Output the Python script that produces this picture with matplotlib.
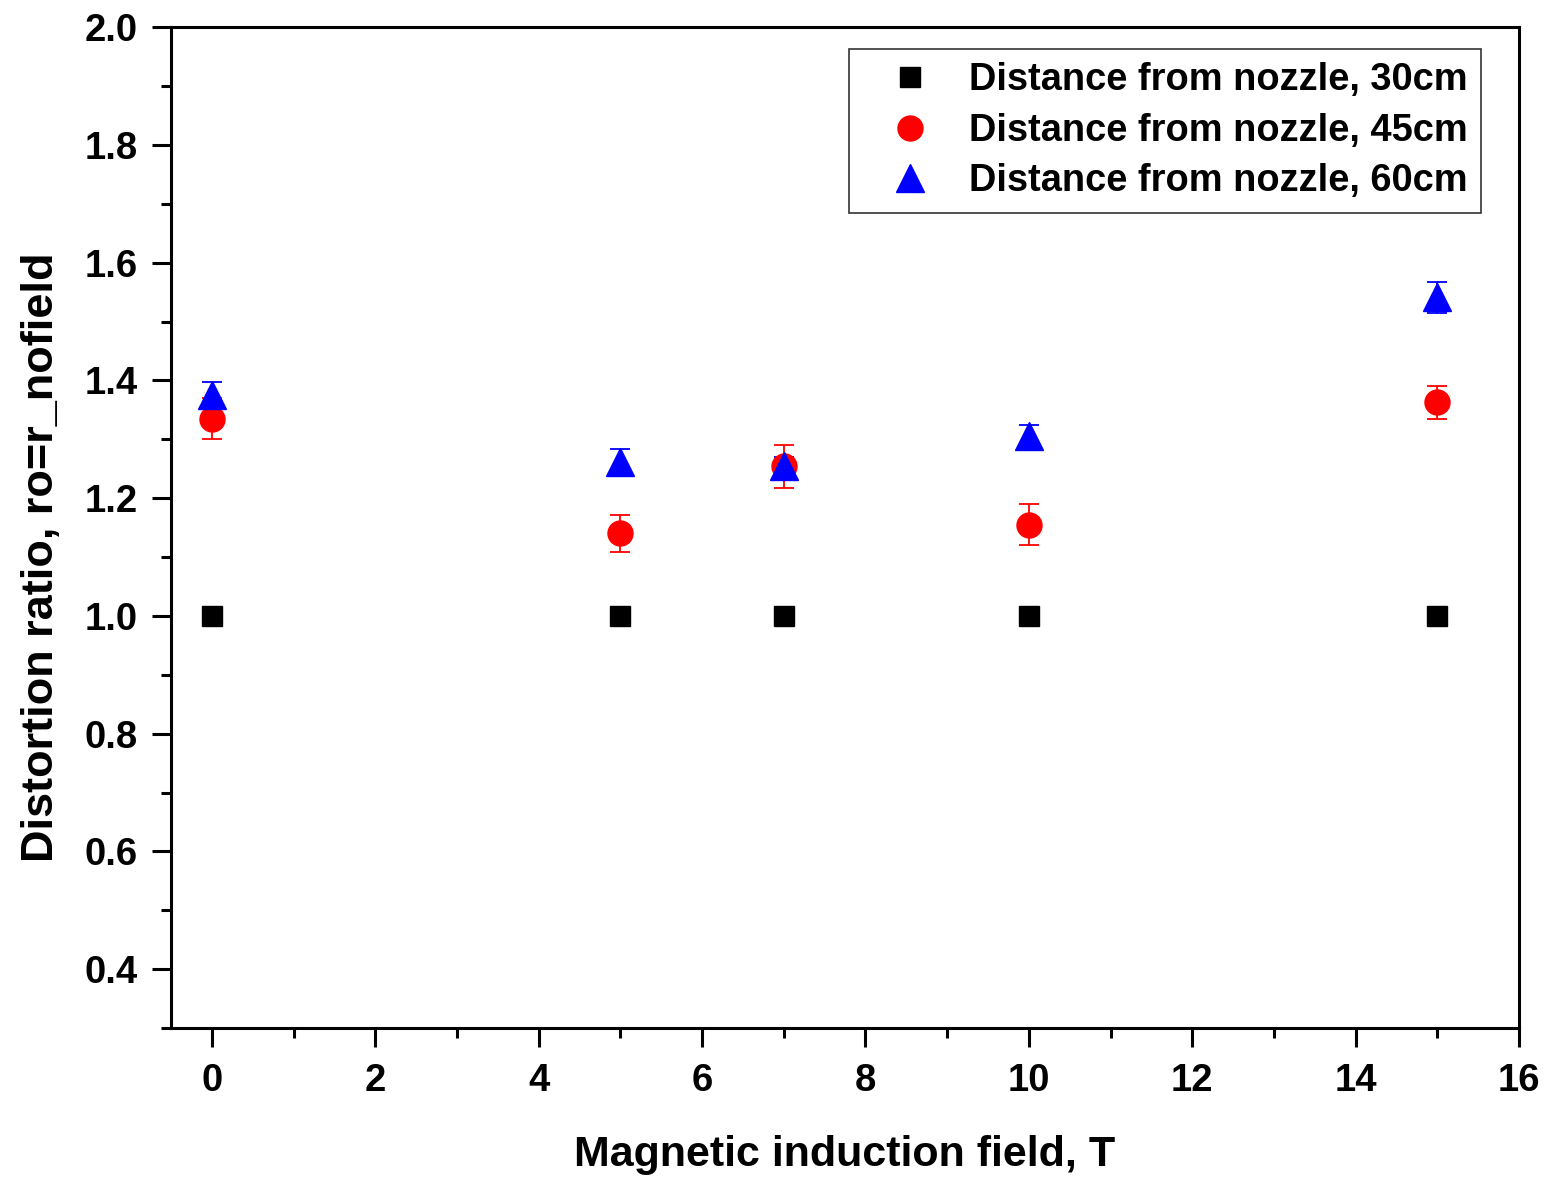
import matplotlib
matplotlib.use("Agg")
import matplotlib.pyplot as plt
from matplotlib.ticker import MultipleLocator

plt.rcParams['font.family'] = ['Liberation Sans', 'DejaVu Sans']
plt.rcParams['font.weight'] = 'bold'

field = [0, 5, 7, 10, 15]
ratio_30 = [1.0, 1.0, 1.0, 1.0, 1.0]
ratio_45 = [1.335, 1.140, 1.254, 1.155, 1.363]
err_45 = [0.035, 0.031, 0.037, 0.035, 0.028]
ratio_60 = [1.375, 1.262, 1.255, 1.305, 1.541]
err_60 = [0.023, 0.021, 0.015, 0.019, 0.026]
labels = ["Distance from nozzle, 30cm", "Distance from nozzle, 45cm", "Distance from nozzle, 60cm"]

fig = plt.figure(figsize=(15.47, 11.8), dpi=100)
ax = fig.add_axes([0.1105, 0.1288, 0.8715, 0.8482])

ax.errorbar(field, ratio_45, yerr=err_45, fmt='none', ecolor='red', elinewidth=1.3, capsize=7.5, capthick=1.3, zorder=2)
ax.errorbar(field, ratio_60, yerr=err_60, fmt='none', ecolor='blue', elinewidth=1.3, capsize=7.5, capthick=1.3, zorder=3)
ax.plot(field, ratio_30, 's', color='black', ms=14.5, linestyle='none', label=labels[0], zorder=4)
ax.plot(field, ratio_45, 'o', color='red', ms=18, linestyle='none', label=labels[1], zorder=4)
ax.plot(field, ratio_60, '^', color='blue', ms=20.5, linestyle='none', label=labels[2], zorder=5)

ax.set_xlim(-0.5, 16)
ax.set_ylim(0.3, 2.0)
ax.xaxis.set_major_locator(MultipleLocator(2))
ax.xaxis.set_minor_locator(MultipleLocator(1))
ax.set_yticks([0.3, 0.5, 0.7, 0.9, 1.1, 1.3, 1.5, 1.7, 1.9], minor=True)
ax.set_yticks([0.4, 0.6, 0.8, 1.0, 1.2, 1.4, 1.6, 1.8, 2.0])
ax.set_yticklabels(["0.4", "0.6", "0.8", "1.0", "1.2", "1.4", "1.6", "1.8", "2.0"])

ax.tick_params(which='major', direction='out', length=14, width=2.2, labelsize=27.5)
ax.tick_params(axis='x', which='major', pad=11)
ax.tick_params(axis='y', which='major', pad=10)
ax.tick_params(which='minor', direction='out', length=7.5, width=2.2)
for lab in ax.get_xticklabels() + ax.get_yticklabels():
    lab.set_fontweight('bold')
for sp in ax.spines.values():
    sp.set_linewidth(2.2)

ax.set_xlabel("Magnetic induction field, T", fontsize=31, fontweight='bold', labelpad=26)
ax.set_ylabel("Distortion ratio, ro=r_nofield", fontsize=32.5, fontweight='bold')
ax.yaxis.set_label_coords(-0.081, 0.4705)

leg = ax.legend(loc='upper right', bbox_to_anchor=(0.9718, 0.978), borderaxespad=0,
                prop={'weight': 'bold', 'size': 27.4}, frameon=True, fancybox=False,
                handlelength=2.5, handletextpad=0.3, labelspacing=0.38, borderpad=0.35, edgecolor='black')
leg.get_frame().set_linewidth(1.2)

fig.savefig("out.png", dpi=100)
